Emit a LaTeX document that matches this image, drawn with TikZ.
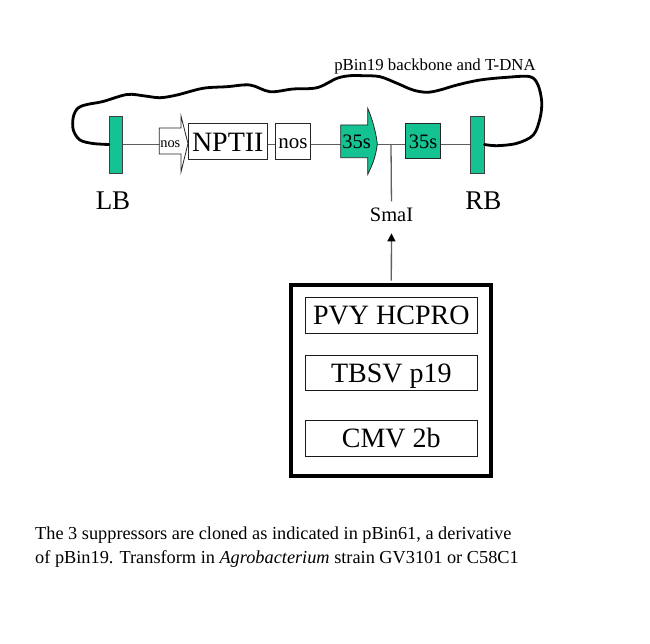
\documentclass[tikz,border=0pt]{standalone}
\usepackage{fontspec}
\setmainfont{Liberation Serif}
\usetikzlibrary{arrows.meta}
\definecolor{geneGreen}{RGB}{20,195,145}
\definecolor{dnaGray}{RGB}{95,95,95}
\tikzset{
  bar/.style={draw=black!75, fill=geneGreen, line width=0.8pt, minimum width=13.5pt, minimum height=57pt, inner sep=0pt},
  genebox/.style={draw=black!85, fill=white, line width=0.8pt, inner sep=0pt},
  greenbox/.style={genebox, fill=geneGreen},
  dna/.style={draw=dnaGray, line width=1.3pt},
  backbone/.style={draw=black, line width=2.8pt, line join=round, line cap=round},
  supbox/.style={draw=black!90, line width=0.9pt, fill=white, minimum width=172.7pt, minimum height=35.6pt, inner sep=0pt,
    font=\fontsize{28}{30}\selectfont, text height=19.5pt, text depth=1pt},
  lbl/.style={inner sep=0pt, anchor=base}
}
\begin{document}
\begin{tikzpicture}[x=1pt,y=-1pt]
\useasboundingbox (0,0) rectangle (650,644);
\fill[white] (0,0) rectangle (650,644);

% border bars
\node[bar] (lb) at (116,144.5) {};
\node[bar] (rb) at (477.3,144.5) {};

% DNA line
\draw[dna] (lb.east) -- (rb.west);

% backbone curve
\draw[backbone] plot[smooth, tension=0.55] coordinates {
 (lb.west) (93,143.5) (80,140) (73.3,130) (73.3,117) (78,108) (87,104.5) (103,101.5)
 (127,94.5) (145,96) (160,97.7) (177,95) (203,88.3) (227,86.7) (250,85) (270,91.7)
 (293,89) (317,87.7) (337,78.3) (350,75.7) (363,75.7) (380,76.7) (397,83.3) (413,90)
 (427,92.3) (440,90) (457,85) (480,80) (507,77.3) (530,76.7) (538,85) (541.7,101.7)
 (540,118.3) (533.3,135) (517,143.3) (497,145.7) (rb.east)};
\node[lbl, font=\fontsize{16.8}{18}\selectfont] (bbl) at (435,71) {pBin19 backbone and T-DNA};

% nos promoter arrow
\draw[genebox] (159.3,128) -- (181,128) -- (181,116) -- (188,143.5) -- (181,172) -- (181,154) -- (159.3,154) -- cycle;
\node[lbl, font=\fontsize{14.4}{15}\selectfont] (nosp) at (170.3,147.7) {nos};

% NPTII
\node[genebox, minimum width=79pt, minimum height=36pt, font=\fontsize{28}{30}\selectfont, text height=20.5pt, text depth=0.5pt] (nptii) at (227.8,141.3) {NPTII};
% nos terminator
\node[genebox, minimum width=34.3pt, minimum height=36pt, font=\fontsize{21}{22}\selectfont, text height=14pt, text depth=0pt] (nost) at (292.85,141.3) {nos};

% 35S promoter arrow
\draw[greenbox] (340.7,125) -- (367.7,125) -- (367.7,108.3)
  .. controls (372,118) and (376,132) .. (377.3,144)
  .. controls (376,156) and (372,166) .. (367.7,174.3)
  -- (367.7,157.7) -- (340.7,157.7) -- cycle;
\node[lbl, font=\fontsize{20.5}{22}\selectfont] (p35) at (356.7,149) {35s};

% 35S terminator
\node[greenbox, minimum width=35.4pt, minimum height=35pt, font=\fontsize{20.5}{22}\selectfont, text height=16.4pt, text depth=0pt] (t35) at (423,140.8) {35s};

% labels
\node[lbl, font=\fontsize{27}{28}\selectfont] (lbt) at (113,209.3) {LB};
\node[lbl, font=\fontsize{27}{28}\selectfont] (rbt) at (483.3,209.3) {RB};

% SmaI site
\coordinate (smasite) at (391,144);
\node[lbl, font=\fontsize{20.5}{22}\selectfont] (smai) at (391.5,221.7) {SmaI};
\draw[dna] (smasite) -- (smai.north) [shorten >=6.5pt];

% suppressor box
\node[draw=black, line width=4pt, minimum width=200pt, minimum height=191.3pt, inner sep=0pt] (sup) at (391.3,380.35) {};
\node[supbox] (hcpro) at (391.3,315.5) {PVY HCPRO};
\node[supbox] (p19) at (391.3,372.85) {TBSV p19};
\node[supbox] (cmv) at (391.3,438.35) {CMV 2b};
\draw[dna, shorten <=2pt, shorten >=11.3pt, -{Triangle[length=8pt,width=8pt,color=black]}] (sup.north) -- (smai.south);

% caption
\node[inner sep=0pt, anchor=base west, font=\fontsize{18.3}{22}\selectfont] (cap1) at (35,539.3) {The 3 suppressors are cloned as indicated in pBin61, a derivative};
\node[inner sep=0pt, anchor=base west, font=\fontsize{18.3}{22}\selectfont] (cap2) at (35,563.3) {of pBin19. Transform in \textit{Agrobacterium} strain GV3101 or C58C1};
\end{tikzpicture}
\end{document}
